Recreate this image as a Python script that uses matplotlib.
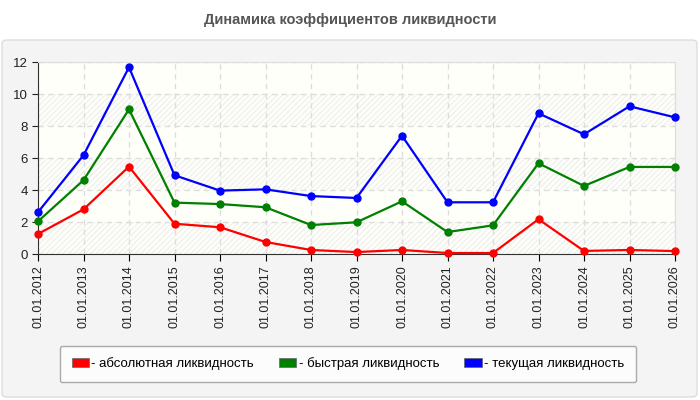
import numpy as np
import matplotlib.pyplot as plt
from matplotlib.patches import FancyBboxPatch, Patch

dates = ['01.01.2012', '01.01.2013', '01.01.2014', '01.01.2015', '01.01.2016',
         '01.01.2017', '01.01.2018', '01.01.2019', '01.01.2020', '01.01.2021',
         '01.01.2022', '01.01.2023', '01.01.2024', '01.01.2025', '01.01.2026']
absolute = [1.27, 2.81, 5.48, 1.91, 1.69, 0.77, 0.27, 0.14, 0.27, 0.08, 0.08, 2.19, 0.21, 0.27, 0.20]
quick = [2.06, 4.63, 9.06, 3.23, 3.14, 2.94, 1.83, 2.00, 3.31, 1.39, 1.81, 5.69, 4.27, 5.46, 5.46]
current = [2.63, 6.19, 11.69, 4.94, 3.98, 4.06, 3.64, 3.52, 7.41, 3.25, 3.25, 8.81, 7.50, 9.25, 8.56]

series = [
    (absolute, '#ff0000', '- абсолютная ликвидность'),
    (quick, '#008000', '- быстрая ликвидность'),
    (current, '#0000ff', '- текущая ликвидность'),
]

plt.rcParams['font.family'] = ['Liberation Sans', 'DejaVu Sans']

W, H = 700, 400
fig = plt.figure(figsize=(7, 4), dpi=100)
fig.patch.set_facecolor('white')

# grey panel behind the chart
panel = FancyBboxPatch((2 / W, 3 / H), 695 / W, 357 / H,
                       boxstyle='round,pad=0,rounding_size=0.008',
                       transform=fig.transFigure, facecolor='#f4f4f4',
                       edgecolor='#dddddd', linewidth=1, zorder=-5)
fig.patches.append(panel)

fig.text(0.5, 1 - 20 / H, 'Динамика коэффициентов ликвидности', ha='center', va='center',
         fontsize=10.5, fontweight='bold', color='#555555')

ax = fig.add_axes([38 / W, 1 - 254.3 / H, 637 / W, 192 / H])
ax.set_facecolor('#fffffa')

x = np.arange(len(dates))
ax.set_xlim(0, len(dates) - 1)
ax.set_ylim(0, 12)

# striped bands
for lo in range(0, 12, 2):
    if (lo // 2) % 2 == 0:
        ax.axhspan(lo, lo + 2, facecolor='none', hatch='//////', edgecolor='#f0f0f0',
                   linewidth=0, zorder=0)

ax.grid(True, linestyle=(0, (4, 3)), color='#dddddd', linewidth=1)
ax.set_axisbelow(True)

for vals, col, lab in series:
    ax.plot(x, vals, color=col, linewidth=1.6, marker='o', markersize=5, zorder=3,
            clip_on=False)

ax.set_xticks(x)
ax.set_xticklabels(dates, rotation=90, fontsize=9, color='#222222')
ax.set_yticks(range(0, 13, 2))
ax.tick_params(axis='y', labelsize=9.5, colors='#222222', length=4)
ax.tick_params(axis='x', length=5, pad=3)

for s in ['left', 'bottom']:
    ax.spines[s].set_color('#333333')
for s in ['top', 'right']:
    ax.spines[s].set_color('#dddddd')

handles = [Patch(facecolor=c, edgecolor='#666666', linewidth=0.5, label=l) for _, c, l in series]
leg = fig.legend(handles=handles, loc='center', bbox_to_anchor=(348 / W, 1 - 364 / H),
                 ncol=3, fontsize=9.5, frameon=True, fancybox=True, handlelength=1.3,
                 handleheight=0.7, handletextpad=0.2, columnspacing=1.9,
                 borderpad=0.9, edgecolor='#aaaaaa', facecolor='#fcfcfc', framealpha=1)
leg.get_frame().set_linewidth(1)

fig.savefig('out.png', dpi=100, facecolor='white')
